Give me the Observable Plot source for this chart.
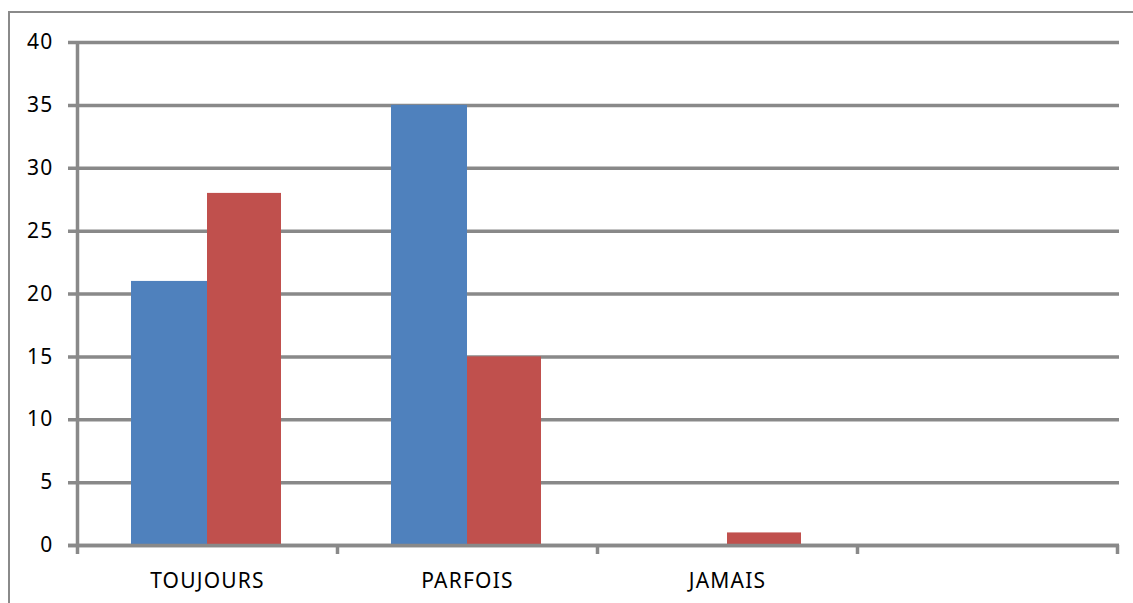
<!DOCTYPE html>
<html><head><meta charset="utf-8">
<script src="https://cdn.jsdelivr.net/npm/d3@7"></script>
<script src="https://cdn.jsdelivr.net/npm/@observablehq/plot@0.6"></script>
<style>
body{margin:0;background:#fff;}
#wrap{position:relative;width:1133px;height:603px;overflow:hidden;background:#fff;}
#border{position:absolute;left:8px;top:11px;width:2000px;height:2000px;border-top:2px solid #8a8a8a;border-left:2px solid #8a8a8a;}
#chart{position:absolute;left:0;top:0;}
#chart text{letter-spacing:1.2px;}
</style></head><body>
<div id="wrap"><div id="border"></div><div id="chart"></div></div>
<script>
const categories = ["TOUJOURS", "PARFOIS", "JAMAIS", " "];
const seriesNames = ["Série 1", "Série 2"];
const serie1 = [21, 35, 0];
const serie2 = [28, 15, 1];
const yTicks = [0, 5, 10, 15, 20, 25, 30, 35, 40];

const data1 = serie1.map((v, i) => ({category: categories[i], series: seriesNames[0], value: v}));
const data2 = serie2.map((v, i) => ({category: categories[i], series: seriesNames[1], value: v}));

const gray = "#898989";
const W = 1133, H = 603, mL = 77, mR = 16, mT = 42, mB = 58;
const step = (W - mL - mR) / categories.length;
const plotH = H - mT - mB;

const chart = Plot.plot({
  width: W, height: H,
  marginLeft: mL, marginRight: mR, marginTop: mT, marginBottom: mB,
  style: {fontFamily: "'Noto Sans', sans-serif", fontSize: "21px", color: "#000", background: "transparent"},
  x: {domain: categories, padding: 0, axis: null, label: null},
  y: {domain: [0, 40], axis: null, label: null},
  marks: [
    Plot.ruleY(yTicks, {y: d => d, stroke: gray, strokeWidth: 3.5, insetLeft: -9, insetRight: -2}),
    Plot.barY(data1, {x: "category", y: "value", fill: "#4f81bd", insetLeft: 54, insetRight: 130}),
    Plot.barY(data2, {x: "category", y: "value", fill: "#c0504d", insetLeft: 130, insetRight: 56}),
    Plot.ruleY([0], {stroke: gray, strokeWidth: 3.5, insetLeft: -9, insetRight: -2}),
    Plot.ruleX(categories.slice(0, 1), {x: d => d, dx: -step / 2, stroke: gray, strokeWidth: 3.5, insetBottom: -9}),
    Plot.ruleX(categories.slice(1), {x: d => d, dx: -step / 2, stroke: gray, strokeWidth: 3.5, insetTop: plotH, insetBottom: -9}),
    Plot.ruleX(categories.slice(-1), {x: d => d, dx: step / 2, stroke: gray, strokeWidth: 3.5, insetTop: plotH, insetBottom: -9}),
    Plot.axisY(yTicks, {tickSize: 0, tickPadding: 24, fontSize: 21, label: null}),
    Plot.axisX({tickSize: 0, tickPadding: 28, fontSize: 21, label: null})
  ]
});
document.getElementById("chart").appendChild(chart);
</script>
</body></html>
